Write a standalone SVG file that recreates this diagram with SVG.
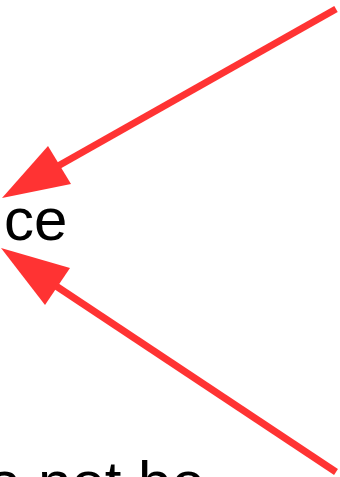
<svg xmlns="http://www.w3.org/2000/svg" width="340" height="477" viewBox="0 0 340 477">
<style>
.lbl{font-family:"Liberation Sans",Arial,sans-serif;font-size:60px;fill:#000}
.edge{stroke:#ff3333;stroke-width:7;fill:none}
.head{fill:#ff3333;stroke:none}
</style>
<rect width="340" height="477" fill="#fff"/>
<g id="node-interface"><text class="lbl" x="4" y="240">ce</text></g>
<g id="node-note"><text class="lbl" x="-12" y="503">a not be</text></g>
<g id="connectors">
<line class="edge" x1="336" y1="9" x2="58" y2="166"/>
<polygon class="head" points="2,198 48,146 71,184"/>
<line class="edge" x1="336" y1="472" x2="56" y2="286"/>
<polygon class="head" points="1,248 70,268 45,305"/>
</g>
</svg>
